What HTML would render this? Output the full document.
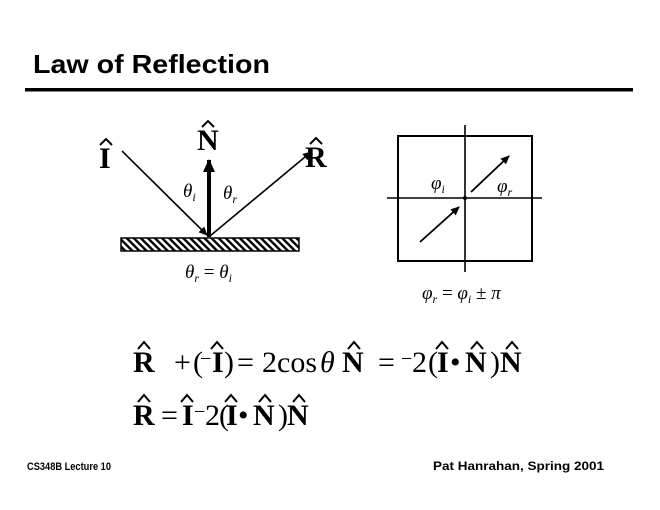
<!DOCTYPE html>
<html><head><meta charset="utf-8"><style>
html,body{margin:0;padding:0;background:#fff;}
svg{display:block;}
.t{font-family:"Liberation Serif",serif;font-size:30px;}
.m{font-size:20px;}
.d{font-family:"Liberation Serif",serif;font-size:30px;font-weight:bold;}
.b{font-weight:bold;}
.s{font-family:"Liberation Sans",sans-serif;font-weight:bold;}
.g{font-family:"Liberation Serif",serif;font-style:italic;font-size:19px;}
.sub{font-size:12px;}
</style></head><body>
<svg width="660" height="510" viewBox="0 0 660 510" xmlns="http://www.w3.org/2000/svg">
<defs>
<pattern id="hatch" patternUnits="userSpaceOnUse" width="5" height="5" patternTransform="rotate(-45)">
<rect width="5" height="5" fill="#fff"/><rect x="0" y="0" width="2.4" height="5" fill="#000"/>
</pattern>
<marker id="ah" markerWidth="10" markerHeight="10" refX="8" refY="5" orient="auto" markerUnits="userSpaceOnUse">
<path d="M0,1 L9,5 L0,9 z" fill="#000"/></marker>
<marker id="ahb" markerWidth="14" markerHeight="14" refX="12" refY="7" orient="auto" markerUnits="userSpaceOnUse">
<path d="M0,1 L13,7 L0,13 z" fill="#000"/></marker>
</defs>
<text x="33" y="73" class="s" font-size="26" textLength="237" lengthAdjust="spacingAndGlyphs">Law of Reflection</text>
<rect x="25" y="88" width="608" height="3.5" fill="#000"/>

<!-- left diagram -->
<rect x="121" y="238" width="178" height="13" fill="url(#hatch)" stroke="#000" stroke-width="1.5"/>
<line x1="122" y1="151" x2="207" y2="235" stroke="#000" stroke-width="1.6" marker-end="url(#ah)"/>
<line x1="210" y1="236" x2="311" y2="152" stroke="#000" stroke-width="1.6" marker-end="url(#ah)"/>
<line x1="209" y1="237" x2="209" y2="160" stroke="#000" stroke-width="4" marker-end="url(#ahb)"/>
<text x="99" y="168" class="d">I</text>
<text x="197" y="150" class="d">N</text>
<text x="305" y="167" class="d">R</text>
<g fill="none" stroke="#000" stroke-width="2">
<polyline points="100,145 106,139 112,145"/>
<polyline points="202,127 208,121 214,127"/>
<polyline points="310,144 316,138 322,144"/>
</g>
<text x="183" y="197" class="g">θ<tspan class="sub" dy="4">i</tspan></text>
<text x="223" y="199" class="g">θ<tspan class="sub" dy="4">r</tspan></text>
<text x="185" y="278" class="g">θ<tspan class="sub" dy="4">r</tspan><tspan dy="-4" font-style="normal"> = </tspan>θ<tspan class="sub" dy="4">i</tspan></text>

<!-- right diagram -->
<rect x="398" y="136" width="134" height="125" fill="none" stroke="#000" stroke-width="2"/>
<line x1="465" y1="125" x2="465" y2="272" stroke="#000" stroke-width="1.6"/>
<line x1="387" y1="198" x2="542" y2="198" stroke="#000" stroke-width="1.6"/>
<circle cx="465" cy="198" r="2" fill="#000"/>
<line x1="420" y1="242" x2="459" y2="207" stroke="#000" stroke-width="1.8" marker-end="url(#ah)"/>
<line x1="471" y1="192" x2="509" y2="156" stroke="#000" stroke-width="1.8" marker-end="url(#ah)"/>
<text x="431" y="189" class="g">φ<tspan class="sub" dy="4">i</tspan></text>
<text x="497" y="192" class="g">φ<tspan class="sub" dy="4">r</tspan></text>
<text x="422" y="299" class="g">φ<tspan class="sub" dy="4">r</tspan><tspan dy="-4" font-style="normal"> = </tspan>φ<tspan class="sub" dy="4">i</tspan><tspan dy="-4" font-style="normal"> ± </tspan>π</text>

<!-- equation 1 -->
<g class="t">
<text x="133" y="372" class="b">R</text>
<text x="174" y="372">+</text>
<text x="193" y="372">(</text>
<text x="200" y="365" class="m">−</text>
<text x="212" y="372" class="b">I</text>
<text x="224" y="372">)</text>
<text x="237" y="372">=</text>
<text x="262" y="372">2</text>
<text x="277" y="372">cos</text>
<text x="320" y="372" font-style="italic">θ</text>
<text x="342" y="372" class="b">N</text>
<text x="378" y="372">=</text>
<text x="401" y="365" class="m">−</text>
<text x="412" y="372">2</text>
<text x="428" y="372">(</text>
<text x="437" y="372" class="b">I</text>
<text x="450" y="372">•</text>
<text x="465" y="372" class="b">N</text>
<text x="490" y="372">)</text>
<text x="500" y="372" class="b">N</text>
</g>
<g fill="none" stroke="#000" stroke-width="2">
<polyline points="138,349 144,342 150,349"/>
<polyline points="211,349 217,342 223,349"/>
<polyline points="348,349 354,342 360,349"/>
<polyline points="436,349 442,342 448,349"/>
<polyline points="471,349 477,342 483,349"/>
<polyline points="506,349 512,342 518,349"/>
</g>
<!-- equation 2 -->
<g class="t">
<text x="133" y="425" class="b">R</text>
<text x="161" y="425">=</text>
<text x="182" y="425" class="b">I</text>
<text x="194" y="418" class="m">−</text>
<text x="205" y="425">2</text>
<text x="219" y="425">(</text>
<text x="226" y="425" class="b">I</text>
<text x="238" y="425">•</text>
<text x="253" y="425" class="b">N</text>
<text x="278" y="425">)</text>
<text x="287" y="425" class="b">N</text>
</g>
<g fill="none" stroke="#000" stroke-width="2">
<polyline points="138,402 144,395 150,402"/>
<polyline points="181,402 187,395 193,402"/>
<polyline points="225,402 231,395 237,402"/>
<polyline points="259,402 265,395 271,402"/>
<polyline points="293,402 299,395 305,402"/>
</g>

<text x="27" y="470" class="s" font-size="11" textLength="84" lengthAdjust="spacingAndGlyphs">CS348B Lecture 10</text>
<text x="433" y="470" class="s" font-size="11.5" textLength="171" lengthAdjust="spacingAndGlyphs">Pat Hanrahan, Spring 2001</text>
</svg>
</body></html>
